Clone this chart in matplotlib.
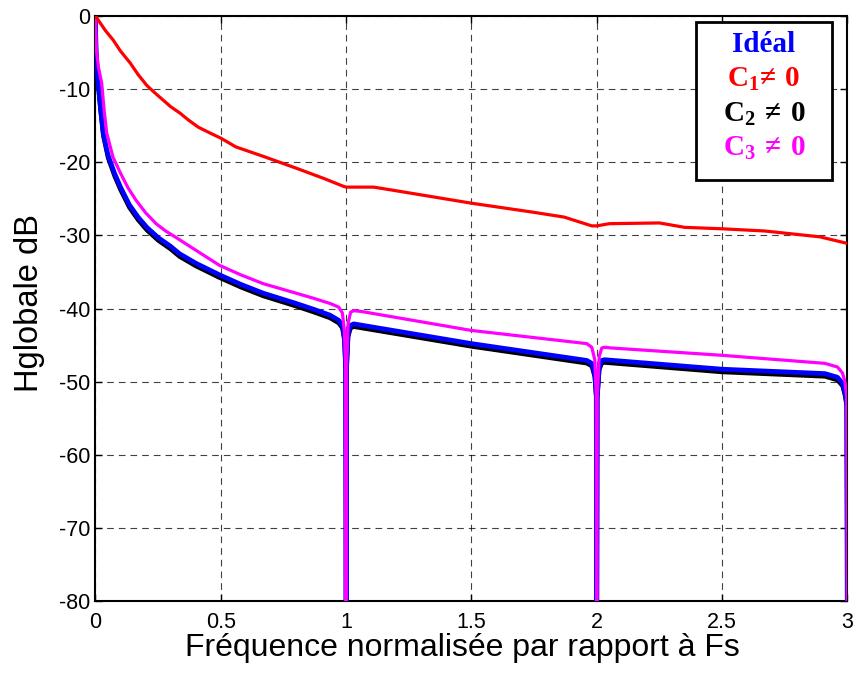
import matplotlib
matplotlib.use('Agg')
import matplotlib.pyplot as plt

# Values (normalised frequency, dB)
freq_ideal = [0, 0.001, 0.003, 0.006, 0.011, 0.02, 0.031, 0.05, 0.076, 0.1, 0.135,
              0.17, 0.205, 0.25, 0.30, 0.335, 0.4, 0.495, 0.58, 0.669, 0.80, 0.87,
              0.935, 0.97, 0.985, 0.993, 0.998, 1.0, 1.002, 1.008, 1.018, 1.03,
              1.5, 1.96, 1.98, 1.992, 1.998, 2.0, 2.002, 2.01, 2.02, 2.03, 2.5, 2.91,
              2.96, 2.98, 2.99, 2.997, 3.0]
h_ideal = [0, -2.5, -5.0, -7.0, -9.2, -12.5, -16.0, -19.0, -21.5, -23.4, -25.8,
           -27.5, -28.9, -30.3, -31.5, -32.5, -33.8, -35.4, -36.7, -37.9, -39.3, -40.1,
           -40.9, -41.6, -42.3, -44.0, -48.0, -90, -48.0, -43.5, -42.3, -42.1,
           -44.8, -47.1, -47.5, -49.0, -52.0, -90, -52.0, -48.0, -47.1, -47.0, -48.3, -48.9,
           -49.4, -50.2, -51.5, -53.0, -90]

h_c2 = [0, -2.8, -5.4, -7.4, -9.6, -12.9, -16.4, -19.4, -21.9, -23.8, -26.2,
        -27.9, -29.3, -30.7, -31.9, -32.9, -34.2, -35.8, -37.1, -38.3, -39.7, -40.5,
        -41.3, -42.0, -42.7, -44.4, -48.4, -90, -48.4, -43.9, -42.7, -42.5,
        -45.2, -47.5, -47.9, -49.4, -52.4, -90, -52.4, -48.4, -47.5, -47.4, -48.7, -49.3,
        -49.8, -50.6, -51.9, -53.4, -90]

freq_c3 = [0, 0.002, 0.004, 0.012, 0.025, 0.035, 0.045, 0.07, 0.1, 0.13, 0.162,
           0.2, 0.242, 0.28, 0.322, 0.39, 0.495, 0.58, 0.669, 0.80, 0.87, 0.935,
           0.97, 0.985, 0.993, 0.998, 1.0, 1.002, 1.008, 1.018, 1.03, 1.06,
           1.5, 1.96, 1.98, 1.992, 1.998, 2.0, 2.002, 2.01, 2.02, 2.03, 2.06, 2.5, 2.91,
           2.96, 2.98, 2.99, 2.997, 3.0]
h_c3 = [0, -2.5, -4.7, -7.0, -9.2, -13.0, -16.0, -19.3, -21.5, -23.5, -25.2,
        -26.9, -28.4, -29.4, -30.3, -31.8, -34.1, -35.4, -36.6, -37.9, -38.6, -39.3,
        -39.8, -40.6, -43.0, -48.0, -90, -48.0, -42.0, -40.5, -40.3, -40.4,
        -43.0, -44.8, -45.3, -47.0, -52.0, -90, -52.0, -46.5, -45.4, -45.3, -45.4, -46.4, -47.5,
        -48.0, -48.8, -50.0, -52.0, -90]

freq_c1 = [0, 0.02, 0.04, 0.071, 0.1, 0.138, 0.17, 0.205, 0.24, 0.27, 0.30, 0.338,
           0.37, 0.41, 0.457, 0.5, 0.56, 0.67, 0.8, 0.91, 0.99, 1.0, 1.11, 1.2, 1.5,
           1.74, 1.87, 1.98, 2.0, 2.05, 2.25, 2.35, 2.5, 2.67, 2.78, 2.89, 3.0]
h_c1 = [0, -1.0, -2.0, -3.3, -4.8, -6.4, -8.0, -9.5, -10.6, -11.5, -12.4, -13.3,
        -14.2, -15.2, -16.0, -16.7, -17.9, -19.2, -20.8, -22.2, -23.3, -23.4, -23.4,
        -23.9, -25.6, -26.8, -27.5, -28.7, -28.7, -28.4, -28.3, -28.9, -29.1, -29.4,
        -29.8, -30.2, -31.1]

xticks = [0, 0.5, 1, 1.5, 2, 2.5, 3]
xticklabels = ['0', '0.5', '1', '1.5', '2', '2.5', '3']
yticks = [0, -10, -20, -30, -40, -50, -60, -70, -80]

plt.rcParams['font.family'] = ['Liberation Sans', 'DejaVu Sans']
plt.rcParams['axes.unicode_minus'] = False
plt.rcParams['mathtext.fontset'] = 'custom'
plt.rcParams['mathtext.rm'] = 'Liberation Serif'
plt.rcParams['mathtext.bf'] = 'Liberation Serif:bold'

fig = plt.figure(figsize=(8.56, 6.75), dpi=100)
ax = fig.add_axes([0.1115, 0.1096, 0.8785, 0.8667])

ax.plot(freq_ideal, h_c2, color='black', lw=3.0, zorder=3)
ax.plot(freq_ideal, h_ideal, color='blue', lw=3.4, zorder=4)
ax.plot(freq_c3, h_c3, color='magenta', lw=2.3, zorder=5)
ax.plot(freq_c1, h_c1, color='red', lw=2.3, zorder=6)

ax.set_xlim(0, 3)
ax.set_ylim(-80, 0)
ax.set_xticks(xticks)
ax.set_xticklabels(xticklabels)
ax.set_yticks(yticks)
ax.tick_params(direction='in', top=True, right=True, length=5, width=1,
               labelsize=15.5)
ax.tick_params(axis='x', pad=8)
ax.tick_params(axis='y', pad=4)
ax.grid(True, color='black', lw=0.8, ls=(0, (6, 4.5)), alpha=0.75)
for s in ax.spines.values():
    s.set_linewidth(1.5)

ax.set_xlabel('Fréquence normalisée par rapport à Fs', fontsize=23, labelpad=0)
ax.xaxis.label.set_x(0.488)
ax.set_ylabel('Hglobale dB', fontsize=23.5, labelpad=9.5)
ax.yaxis.label.set_y(0.51)

# legend box with coloured text only
box = plt.Rectangle((0.799, 0.72), 0.18, 0.27, transform=ax.transAxes,
                    facecolor='white', edgecolor='black', lw=2, zorder=10)
ax.add_patch(box)
ax.text(0.889, 0.9385, 'Idéal', transform=ax.transAxes, ha='center', va='baseline',
        color='blue', fontsize=21, fontweight='bold', family='Liberation Serif', zorder=11)
labels = [r'$\mathbf{C_1≠\ 0}$', r'$\mathbf{C_2\ ≠\ 0}$', r'$\mathbf{C_3\ ≠\ 0}$']
colors = ['red', 'black', 'magenta']
ypos = [0.879, 0.819, 0.7607]
for lab, c, yp in zip(labels, colors, ypos):
    ax.text(0.889, yp, lab, transform=ax.transAxes, ha='center', va='baseline',
            color=c, fontsize=21, zorder=11)

fig.savefig('out.png', dpi=100)
